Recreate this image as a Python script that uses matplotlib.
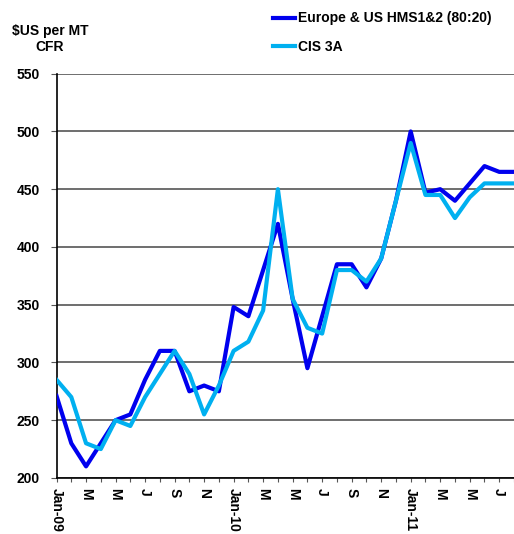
import matplotlib
matplotlib.use('Agg')
import matplotlib.pyplot as plt
import numpy as np

plt.rcParams['font.family'] = ['Liberation Sans', 'DejaVu Sans']
plt.rcParams['font.weight'] = 'bold'

# monthly, Jan-09 .. Aug-11
months = ['Jan-09', 'F', 'M', 'A', 'M', 'J', 'J', 'A', 'S', 'O', 'N', 'D',
          'Jan-10', 'F', 'M', 'A', 'M', 'J', 'J', 'A', 'S', 'O', 'N', 'D',
          'Jan-11', 'F', 'M', 'A', 'M', 'J', 'J', 'A']
europe_us = [271, 230, 210, 230, 250, 255, 285, 310, 310, 275, 280, 275,
             348, 340, 380, 420, 355, 295, 340, 385, 385, 365, 390, 440,
             500, 447, 450, 440, 455, 470, 465, 465]
cis_3a = [285, 270, 230, 225, 250, 245, 270, 290, 310, 290, 255, 280,
          310, 318, 345, 450, 355, 330, 325, 380, 380, 370, 390, 440,
          490, 445, 445, 425, 443, 455, 455, 455]
yticks = [200, 250, 300, 350, 400, 450, 500, 550]

fig = plt.figure(figsize=(5.14, 5.34), dpi=100)
ax = fig.add_axes([0.110, 0.105, 0.890, 0.757])

x = np.arange(len(months))
ax.plot(x, europe_us, color='#0000EE', lw=3, label='Europe & US HMS1&2 (80:20)', zorder=3)
ax.plot(x, cis_3a, color='#00B0F0', lw=3, label='CIS 3A', zorder=3)

ax.set_xlim(0, len(months) - 1)
ax.set_ylim(200, 550)
ax.set_yticks(yticks)
ax.set_yticklabels([str(v) for v in yticks], fontsize=10, fontweight='bold')
ax.yaxis.grid(True, color='#555555', lw=1.2)
ax.set_axisbelow(True)
ax.tick_params(axis='y', length=4, color='#555555', pad=8)

ax.set_xticks(x)
ax.set_xticklabels([m if i % 2 == 0 else '' for i, m in enumerate(months)],
                   rotation=-90, fontsize=10, fontweight='bold', va='top')
ax.tick_params(axis='x', length=3, color='#555555', pad=4)

for s in ['top', 'right']:
    ax.spines[s].set_visible(False)
ax.spines['left'].set_linewidth(1.2)
ax.spines['bottom'].set_linewidth(1.2)

fig.text(0.097, 0.927, '$US per MT\nCFR', ha='center', va='center',
         fontsize=10, fontweight='bold', linespacing=1.15)

ax.legend(loc='upper left', bbox_to_anchor=(0.445, 1.185), frameon=False,
          fontsize=10, handlelength=1.6, handletextpad=0.2, labelspacing=1.05)

fig.savefig('out.png', dpi=100)
